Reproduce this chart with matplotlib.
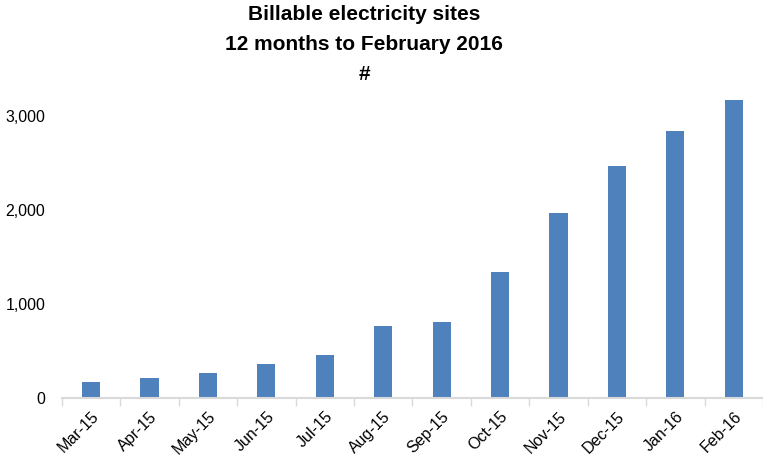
import matplotlib.pyplot as plt
from matplotlib.ticker import FuncFormatter

months = ["Mar-15", "Apr-15", "May-15", "Jun-15", "Jul-15", "Aug-15",
          "Sep-15", "Oct-15", "Nov-15", "Dec-15", "Jan-16", "Feb-16"]
sites = [170, 213, 266, 362, 457, 766, 809, 1340, 1968, 2468, 2840, 3170]

plt.rcParams['font.family'] = ['Liberation Sans', 'DejaVu Sans']

fig = plt.figure(figsize=(7.63, 4.61), dpi=100)
ax = fig.add_axes([0.081, 0.137, 0.919, 0.713])

x = range(len(months))
ax.bar(x, sites, width=0.31, color="#4f81bd")

ax.set_xlim(-0.5, len(months) - 0.5)
ax.set_ylim(0, 3500)
ax.set_yticks([0, 1000, 2000, 3000])
ax.yaxis.set_major_formatter(FuncFormatter(lambda v, p: f"{int(v):,}"))

ax.set_xticks(list(x))
ax.set_xticklabels(months, rotation=45, ha="right", rotation_mode="anchor")
ax.set_xticks([i - 0.5 for i in range(len(months) + 1)], minor=True)
ax.tick_params(axis="x", which="major", length=0, pad=8, labelsize=11.5)
ax.tick_params(axis="x", which="minor", length=6, color="#d9d9d9", width=1)
ax.tick_params(axis="y", length=0, pad=12, labelsize=11.5)

for s in ["top", "right", "left"]:
    ax.spines[s].set_visible(False)
ax.spines["bottom"].set_color("#d9d9d9")
ax.spines["bottom"].set_linewidth(1.5)

for text, ypos in [("Billable electricity sites", 0.969),
                   ("12 months to February 2016", 0.904),
                   ("#", 0.839)]:
    fig.text(0.477, ypos, text, ha="center", va="center",
             fontsize=15, fontweight="bold")

fig.savefig("out.png", dpi=100)
